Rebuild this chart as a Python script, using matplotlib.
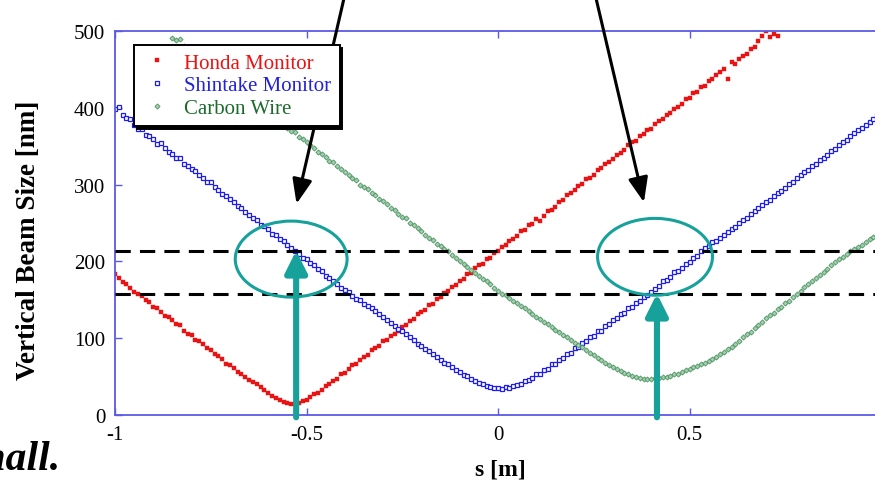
import matplotlib
matplotlib.use("Agg")
import matplotlib.pyplot as plt
from matplotlib.patches import Ellipse

# ----- styles -----
plt.rcParams['font.family'] = ['Liberation Serif', 'DejaVu Serif']
spine_col = '#5a5ae6'
teal = '#17a19b'

# ----- data -----
# scan positions s [m]
scan_s = [
    -1.00, -0.99, -0.98, -0.97, -0.96, -0.95, -0.94, -0.93, -0.92, -0.91,
    -0.90, -0.89, -0.88, -0.87, -0.86, -0.85, -0.84, -0.83, -0.82, -0.81,
    -0.80, -0.79, -0.78, -0.77, -0.76, -0.75, -0.74, -0.73, -0.72, -0.71,
    -0.70, -0.69, -0.68, -0.67, -0.66, -0.65, -0.64, -0.63, -0.62, -0.61,
    -0.60, -0.59, -0.58, -0.57, -0.56, -0.55, -0.54, -0.53, -0.52, -0.51,
    -0.50, -0.49, -0.48, -0.47, -0.46, -0.45, -0.44, -0.43, -0.42, -0.41,
    -0.40, -0.39, -0.38, -0.37, -0.36, -0.35, -0.34, -0.33, -0.32, -0.31,
    -0.30, -0.29, -0.28, -0.27, -0.26, -0.25, -0.24, -0.23, -0.22, -0.21,
    -0.20, -0.19, -0.18, -0.17, -0.16, -0.15, -0.14, -0.13, -0.12, -0.11,
    -0.10, -0.09, -0.08, -0.07, -0.06, -0.05, -0.04, -0.03, -0.02, -0.01,
    0.00, 0.01, 0.02, 0.03, 0.04, 0.05, 0.06, 0.07, 0.08, 0.09,
    0.10, 0.11, 0.12, 0.13, 0.14, 0.15, 0.16, 0.17, 0.18, 0.19,
    0.20, 0.21, 0.22, 0.23, 0.24, 0.25, 0.26, 0.27, 0.28, 0.29,
    0.30, 0.31, 0.32, 0.33, 0.34, 0.35, 0.36, 0.37, 0.38, 0.39,
    0.40, 0.41, 0.42, 0.43, 0.44, 0.45, 0.46, 0.47, 0.48, 0.49,
    0.50, 0.51, 0.52, 0.53, 0.54, 0.55, 0.56, 0.57, 0.58, 0.59,
    0.60, 0.61, 0.62, 0.63, 0.64, 0.65, 0.66, 0.67, 0.68, 0.69,
    0.70, 0.71, 0.72, 0.73, 0.74, 0.75, 0.76, 0.77, 0.78, 0.79,
    0.80, 0.81, 0.82, 0.83, 0.84, 0.85, 0.86, 0.87, 0.88, 0.89,
    0.90, 0.91, 0.92, 0.93, 0.94, 0.95, 0.96, 0.97, 0.98, 0.99,
]

# Honda Monitor, s = -1.00 ... 0.73
honda_nm = [
    184, 178, 173, 171, 165, 160, 157, 155, 150, 147,
    141, 139, 134, 129, 128, 124, 118, 117, 110, 106,
    104, 98, 97, 93, 87, 85, 79, 77, 73, 67,
    65, 61, 56, 53, 50, 45, 43, 40, 36, 32,
    29, 25, 22, 20, 17, 15, 14,
    14, 15, 18, 19, 23, 27, 29, 33, 38, 40,
    44, 47, 53, 55, 60, 65, 66, 71, 76, 78,
    84, 87, 90, 96, 98, 103, 106, 109, 115, 117,
    123, 125, 131, 134, 137, 143, 145, 151, 153, 159,
    161, 167, 169, 175, 177, 183, 185, 191, 195, 197,
    203, 205, 211, 213, 219, 221, 226, 229, 233, 239,
    241, 247, 249, 255, 253, 259, 265, 267, 271, 277,
    280, 287, 289, 293, 298, 301, 307, 309, 312, 319,
    321, 327, 329, 333, 339, 341, 345, 351, 356, 357,
    363, 366, 371, 373, 379, 383, 385, 391, 393, 399,
    401, 405, 411, 413, 419, 421, 427, 429, 435, 437,
    443, 446, 451, 438, 459, 457, 464, 468, 470, 476,
    479, 487, 494, 500, 492, 496, 493,
]

# Shintake Monitor, s = -1.00 ... 0.99
shintake_nm = [
    399, 401, 390, 387, 386, 378, 372, 373, 365, 363,
    360, 353, 354, 348, 343, 340, 335, 334, 327, 324,
    320, 318, 312, 309, 303, 303, 297, 293, 288, 285,
    281, 277, 272, 270, 264, 261, 257, 254, 248, 246,
    242, 236, 234, 229, 226, 221, 218, 213, 210, 205,
    203, 198, 195, 190, 187, 181, 178, 175, 171, 165,
    163, 160, 155, 151, 150, 145, 142, 139, 135, 131,
    128, 124, 120, 116, 112, 109, 106, 101, 98, 93,
    90, 86, 83, 79, 76, 72, 68, 66, 63, 59,
    56, 52, 51, 47, 44, 42, 40, 38, 36, 35,
    35, 34, 36, 35, 38, 39, 41, 44, 45, 48,
    53, 54, 59, 60, 66, 67, 72, 74, 80, 81,
    87, 88, 94, 96, 101, 103, 109, 110, 116, 118,
    124, 126, 131, 133, 139, 141, 146, 148, 154, 156,
    160, 164, 168, 174, 176, 180, 186, 188, 192, 197,
    199, 205, 207, 213, 217, 220, 225, 227, 231, 234,
    238, 242, 245, 250, 254, 257, 262, 265, 269, 273,
    277, 280, 285, 289, 292, 296, 301, 304, 308, 313,
    316, 319, 324, 327, 332, 335, 339, 344, 347, 351,
    355, 358, 363, 367, 371, 374, 378, 382, 386, 390,
]

# Carbon Wire, s = -0.85 ... 0.99
carbon_nm = [
    491, 488, 489, 480, 478, 472, 467, 466, 459, 456,
    451, 449, 443, 440, 436, 432, 428, 424, 420, 417,
    413, 410, 405, 403, 397, 394, 389, 387, 382, 379,
    374, 370, 368, 362, 360, 355, 351, 348, 343, 340,
    336, 331, 329, 324, 320, 316, 313, 308, 306, 300,
    297, 294, 289, 287, 281, 278, 275, 270, 267, 262,
    258, 256, 250, 248, 243, 239, 235, 231, 228, 223,
    220, 216, 213, 208, 205, 200, 197, 193, 189, 185,
    181, 177, 174, 170, 166, 162,
    158, 156, 152, 149, 146, 142, 139, 135, 132, 128,
    125, 121, 118, 115, 111, 108, 104, 101, 98, 94,
    91, 88, 84, 81, 78, 74, 71, 68, 65, 62,
    60, 57, 55, 53, 51, 50, 48, 47, 47, 47,
    48, 48, 49, 50, 51, 53, 54, 56, 58, 60,
    62, 64, 66, 68, 70, 73, 76, 79, 82, 86,
    89, 93, 97, 101, 105, 108, 113, 117, 121, 126,
    130, 133, 138, 141, 146, 149, 153, 157, 162, 167,
    170, 174, 178, 182, 186, 190, 195, 199, 203, 206,
    209, 213, 216, 219, 222, 225, 229, 232, 235,
]

series_names = ['Honda Monitor', 'Shintake Monitor', 'Carbon Wire']
label_colors = ['#ee1111', '#2222dd', '#1d6b2c']

# reference levels and marked positions
dash_levels = [214, 158]
mark_s = [-0.527, 0.415]
mark_top = [214, 158]
ellipse_centers = [(-0.540, 203), (0.410, 206)]
ellipse_w = [0.292, 0.300]
ellipse_h = [99, 100]
pointer_tips = [(-0.526, 275), (0.381, 277)]
pointer_starts_px = [(345, 490), (595, 490)]

# ----- figure -----
fig = plt.figure(figsize=(8.75, 4.85), dpi=100)
ax = fig.add_axes([115 / 875, 69 / 485, 766 / 875, 384 / 485])

ax.plot(scan_s[:len(honda_nm)], honda_nm, ls='none', marker='s',
        ms=2.7, mfc='#e81414', mec='#e81414', mew=0.3, label=series_names[0])
ax.plot(scan_s, shintake_nm, ls='none', marker='s', ms=3.3,
        mfc='white', mec='#1c1cf0', mew=0.9, label=series_names[1])
ax.plot(scan_s[15:], carbon_nm, ls='none', marker='D', ms=2.6,
        mfc='#a6cfb0', mec='#4a9460', mew=0.6, label=series_names[2])

for lev in dash_levels:
    ax.axhline(lev, color='k', lw=2.2, dashes=(5, 3), zorder=4, clip_on=False)

for (cx, cy), w, h in zip(ellipse_centers, ellipse_w, ellipse_h):
    ax.add_patch(Ellipse((cx, cy), w, h, fill=False, ec=teal, lw=2.2, zorder=5))

for sx, top in zip(mark_s, mark_top):
    ax.annotate('', xy=(sx, top), xytext=(sx, -3), annotation_clip=False,
                arrowprops=dict(arrowstyle='-|>,head_length=1.3,head_width=0.65',
                                mutation_scale=10, lw=4.4, color=teal,
                                shrinkA=0, shrinkB=0), zorder=6)

for tip, start in zip(pointer_tips, pointer_starts_px):
    ax.annotate('', xy=tip, xycoords='data', xytext=start,
                textcoords='figure pixels', annotation_clip=False,
                arrowprops=dict(arrowstyle='-|>,head_length=1.5,head_width=0.6',
                                mutation_scale=10, lw=2.2, color='k',
                                shrinkA=0, shrinkB=0), zorder=7)

ax.set_xlim(-1, 1)
ax.set_ylim(0, 500)
ax.set_xticks([-1, -0.5, 0, 0.5], ['-1', '-0.5', '0', '0.5'])
ax.set_yticks([0, 100, 200, 300, 400, 500])
ax.tick_params(direction='in', length=5, width=1, color=spine_col,
               labelsize=15, pad=7, top=True)
for side in ['left', 'bottom', 'top']:
    ax.spines[side].set_color(spine_col)
    ax.spines[side].set_linewidth(1.3)
ax.spines['right'].set_visible(False)

leg = ax.legend(loc='upper left', bbox_to_anchor=(0.025, 0.964),
                borderaxespad=0, fontsize=15, numpoints=1, handlelength=1.4,
                handletextpad=0.6, borderpad=0.4, labelspacing=0.15,
                fancybox=False, framealpha=1, edgecolor='k',
                shadow={'color': 'black', 'alpha': 1.0},
                labelcolor=label_colors)
leg.get_frame().set_linewidth(1.4)
leg.set_zorder(8)

fig.text(29 / 875, 1 - 240 / 485, 'Vertical Beam Size [nm]', rotation=90,
         ha='center', va='center', fontsize=19.5, fontweight='bold')
fig.text(500 / 875, 1 - 470 / 485, 's [m]', ha='center', va='center',
         fontsize=17, fontweight='bold')
fig.text(60 / 875, 1 - 470 / 485, 'small.', ha='right', va='baseline',
         fontsize=30, fontweight='bold', fontstyle='italic')

fig.savefig('out.png', dpi=100)
